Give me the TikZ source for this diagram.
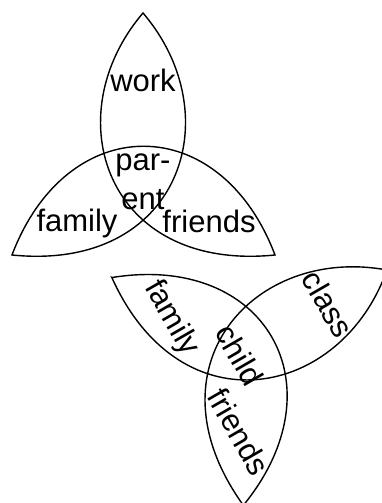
\documentclass[tikz,border=0pt]{standalone}
\usepackage{fontspec}
\setmainfont{Liberation Sans}
\usetikzlibrary{positioning}

\begin{document}
\begin{tikzpicture}[
    x=1pt, y=1pt,
    word/.style={font=\fontsize{31}{39}\selectfont, inner sep=0pt, anchor=base, align=center},
    lenses/.pic={
        \draw[line width=1.4pt] (-131,-81) .. controls (-76,64) and (77,64) .. (132,-81)
            .. controls (-37,-98) and (-88,58) .. (0,161)
            .. controls (88,58) and (37,-98) .. cycle;
    }
]
\useasboundingbox (0,0) rectangle (382,503);

% Parent
\begin{scope}[shift={(143,329)}]
\pic {lenses};
\node[word] (work) at (0,82) {work};
\node[word] (parent) at (0,-36) {par-\\ent};
\node[word] (family) at (-66,-58) {family};
\node[word] (friends) at (66,-59) {friends};
\end{scope}

% Child
\begin{scope}[shift={(247.5,152.5)}, rotate=-60, transform shape]
\pic {lenses};
\node[word] (class) at (0,82) {class};
\node[word] (child) at (0,-20) {child};
\node[word] (family2) at (-66,-58) {family};
\node[word] (friends2) at (66,-59) {friends};
\end{scope}

\end{tikzpicture}
\end{document}
